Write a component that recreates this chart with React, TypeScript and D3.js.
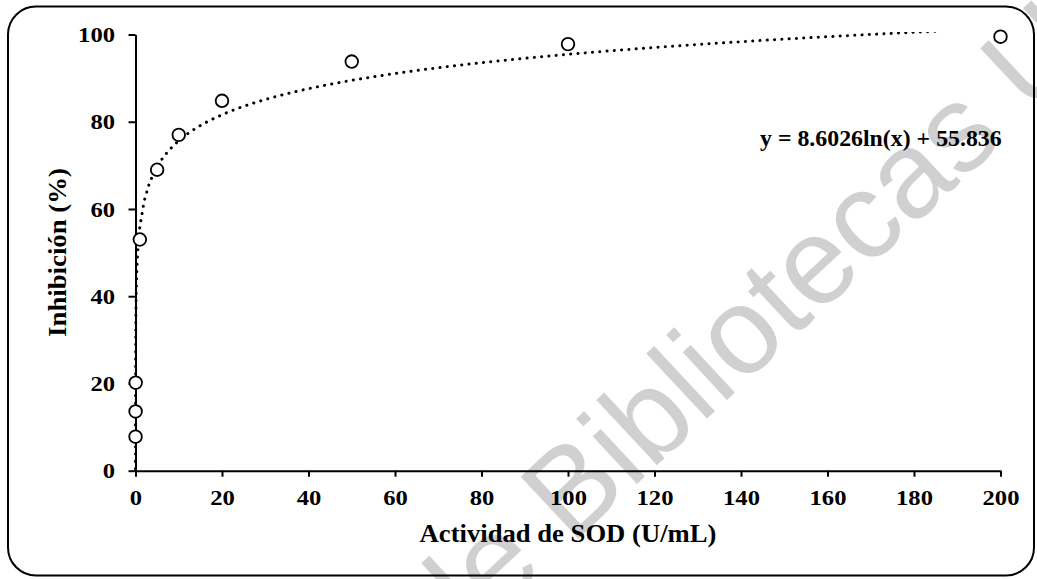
import React, { useEffect, useRef } from "react";
import * as d3 from "d3";

// SOD activity (U/mL) vs. inhibition (%)
const sodActivity = [0.01, 0.02, 0.05, 1, 5, 10, 20, 50, 100, 200];
const inhibition = [7.8, 13.6, 20.2, 53, 69, 77, 84.8, 93.8, 97.8, 99.5];

// logarithmic trend line y = a ln(x) + b
const trendCoef = [8.6026, 55.836];
const trendRange = [0.0016, 186];

const xTicks = [0, 20, 40, 60, 80, 100, 120, 140, 160, 180, 200];
const yTicks = [0, 20, 40, 60, 80, 100];

const W = 1037,
  H = 579;

export default function App() {
  const ref = useRef<SVGSVGElement>(null);

  useEffect(() => {
    const svg = d3.select(ref.current);
    svg.selectAll("*").remove();

    const margin = { top: 34.5, right: 36.5, bottom: 108.3, left: 135.5 };
    const font = "'Liberation Serif', 'Times New Roman', serif";
    const stretch = 1.12;

    const x = d3
      .scaleLinear()
      .domain([0, 200])
      .range([margin.left, W - margin.right]);
    const y = d3
      .scaleLinear()
      .domain([0, 100])
      .range([H - margin.bottom, margin.top]);

    // plot area clip (trend line gets cut at the top like the original)
    svg
      .append("defs")
      .append("clipPath")
      .attr("id", "plotClip")
      .append("rect")
      .attr("x", x(0) - 10)
      .attr("y", y(100) - 2.5)
      .attr("width", x(200) - x(0) + 20)
      .attr("height", y(0) - y(100) + 2.5);

    // watermark behind everything
    svg
      .append("text")
      .attr("transform", "translate(446,662) rotate(-43)")
      .attr("font-family", "'Liberation Sans', Arial, sans-serif")
      .attr("font-size", 123)
      .attr("fill", "#d0d0d0")
      .text("de Bibliotecas U");

    // outer frame
    svg
      .append("rect")
      .attr("x", 8)
      .attr("y", 6.5)
      .attr("width", 1026)
      .attr("height", 569)
      .attr("rx", 28)
      .attr("fill", "none")
      .attr("stroke", "#000")
      .attr("stroke-width", 2);

    // axes
    const gx = svg
      .append("g")
      .attr("transform", `translate(0,${y(0)})`)
      .call(d3.axisBottom(x).tickValues(xTicks).tickSize(6).tickSizeOuter(0).tickPadding(12.7));
    const gy = svg
      .append("g")
      .attr("transform", `translate(${x(0)},0)`)
      .call(d3.axisLeft(y).tickValues(yTicks).tickSize(7).tickSizeOuter(0).tickPadding(13.5));

    [gx, gy].forEach((g) => {
      g.select(".domain").attr("stroke", "#000").attr("stroke-width", 2);
      g.selectAll(".tick line").attr("stroke", "#000").attr("stroke-width", 2);
      g.selectAll(".tick text")
        .attr("fill", "#000")
        .attr("font-family", font)
        .attr("font-weight", "bold")
        .attr("font-size", 22)
        .attr("transform", `scale(${stretch},1)`);
    });
    gy.selectAll(".tick text").attr("x", -20.5 / stretch);

    // axis titles
    svg
      .append("text")
      .attr("transform", `translate(568,541.5) scale(1.066,1)`)
      .attr("text-anchor", "middle")
      .attr("font-family", font)
      .attr("font-weight", "bold")
      .attr("font-size", 25)
      .text("Actividad de SOD (U/mL)");

    svg
      .append("text")
      .attr("transform", `translate(66,252.5) rotate(-90) scale(1.05,1)`)
      .attr("text-anchor", "middle")
      .attr("font-family", font)
      .attr("font-weight", "bold")
      .attr("font-size", 25.5)
      .text("Inhibición (%)");

    // trend line
    const lowPart = d3.range(0, 41).map((i) => trendRange[0] * Math.pow(1 / trendRange[0], i / 40));
    const highPart = d3.range(1, 186).map((i) => 1 + ((trendRange[1] - 1) * i) / 185);
    const trendX = lowPart.concat(highPart);
    const line = d3
      .line<number>()
      .x((d) => x(d))
      .y((d) => y(trendCoef[0] * Math.log(d) + trendCoef[1]));

    svg
      .append("path")
      .datum(trendX)
      .attr("d", line)
      .attr("clip-path", "url(#plotClip)")
      .attr("fill", "none")
      .attr("stroke", "#000")
      .attr("stroke-width", 3)
      .attr("stroke-linecap", "round")
      .attr("stroke-dasharray", "0.1 7.2");

    // data points
    svg
      .selectAll("circle.pt")
      .data(sodActivity)
      .enter()
      .append("circle")
      .attr("class", "pt")
      .attr("cx", (d) => x(d))
      .attr("cy", (d, i) => y(inhibition[i]))
      .attr("r", 6.3)
      .attr("fill", "#fff")
      .attr("stroke", "#000")
      .attr("stroke-width", 1.8);

    // equation
    svg
      .append("text")
      .attr("transform", "translate(760,145.5) scale(1.06,1)")
      .attr("font-family", font)
      .attr("font-weight", "bold")
      .attr("font-size", 22.5)
      .text("y = 8.6026ln(x) + 55.836");
  }, []);

  return (
    <svg
      ref={ref}
      width={W}
      height={H}
      style={{ position: "absolute", left: 0, top: 0, background: "#fff" }}
    />
  );
}
